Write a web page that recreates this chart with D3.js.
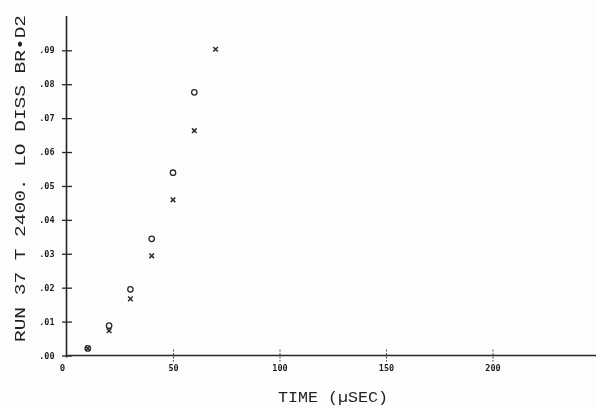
<!DOCTYPE html>
<html>
<head>
<meta charset="utf-8">
<script src="https://cdn.jsdelivr.net/npm/d3@7"></script>
<style>
  html, body { margin: 0; padding: 0; background: #fdfdfd; }
  svg { display: block; }
</style>
</head>
<body>
<script>
// Time in microseconds for each sample
const timeCircle = [10, 20, 30, 40, 50, 60];
const valueCircle = [0.0021, 0.0088, 0.0195, 0.0344, 0.0539, 0.0776];
const timeCross = [10, 20, 30, 40, 50, 60, 70];
const valueCross = [0.0021, 0.0073, 0.0167, 0.0294, 0.0459, 0.0663, 0.0903];

const xTicks = [0, 50, 100, 150, 200];
const xTickLabels = ["0", "50", "100", "150", "200"];
const yTicks = [0, 0.01, 0.02, 0.03, 0.04, 0.05, 0.06, 0.07, 0.08, 0.09];
const yTickLabels = [".00", ".01", ".02", ".03", ".04", ".05", ".06", ".07", ".08", ".09"];

const xTitle = "TIME (\u00B5SEC)";
const yTitle = "RUN 37  T 2400. LO DISS BR\u2022D2";

const W = 596, H = 408;
const ink = "#262626";

const svg = d3.select("body").append("svg")
  .attr("width", W).attr("height", H);

const defs = svg.append("defs");
defs.append("filter").attr("id", "soft")
  .append("feGaussianBlur").attr("stdDeviation", 0.35);

const g = svg.append("g").attr("filter", "url(#soft)");

const x = d3.scaleLinear().domain([0, 250]).range([66.5, 599]);
const y = d3.scaleLinear().domain([0, 0.09]).range([355.5, 50.3]);

// Axis lines
g.append("line")
  .attr("x1", x(0)).attr("x2", W)
  .attr("y1", y(0)).attr("y2", y(0))
  .attr("stroke", ink).attr("stroke-width", 1.4);
g.append("line")
  .attr("x1", x(0)).attr("x2", x(0))
  .attr("y1", 16).attr("y2", y(0) + 2)
  .attr("stroke", ink).attr("stroke-width", 1.6);

// Y axis: ticks crossing the axis line
const yAxis = d3.axisLeft(y)
  .tickValues(yTicks)
  .tickFormat((d, i) => yTickLabels[i])
  .tickSize(4).tickPadding(8);
const yg = g.append("g").attr("transform", `translate(${x(0)},0)`).call(yAxis);
yg.select(".domain").remove();
yg.selectAll(".tick line").attr("x1", -4.5).attr("x2", 5.5)
  .attr("stroke", ink).attr("stroke-width", 1.3);
yg.selectAll(".tick text")
  .attr("fill", "#1e1e1e")
  .attr("font-family", "DejaVu Sans Mono")
  .attr("font-weight", "bold")
  .attr("font-size", 8.5)
  .attr("dy", "0.3em");

// X axis: short ticks crossing the axis line
const xAxis = d3.axisBottom(x)
  .tickValues(xTicks)
  .tickFormat((d, i) => xTickLabels[i])
  .tickSize(6).tickPadding(7);
const xg = g.append("g").attr("transform", `translate(0,${y(0)})`).call(xAxis);
xg.select(".domain").remove();
xg.selectAll(".tick line").attr("y1", -6).attr("y2", 6)
  .attr("stroke", "#555").attr("stroke-width", 1.1)
  .attr("stroke-dasharray", "2,1.5");
xg.selectAll(".tick").filter(d => d === 0).select("line").remove();
xg.selectAll(".tick text")
  .attr("fill", "#1e1e1e")
  .attr("font-family", "DejaVu Sans Mono")
  .attr("font-weight", "bold")
  .attr("font-size", 8.5)
  .attr("dy", "0.3em");
xg.selectAll(".tick").filter(d => d === 0).select("text")
  .attr("x", -4.5).attr("font-size", 9);

// Axis titles
g.append("text")
  .attr("x", 333).attr("y", 402)
  .attr("text-anchor", "middle")
  .attr("font-family", "Liberation Mono")
  .attr("font-size", 15)
  .attr("textLength", 110).attr("lengthAdjust", "spacingAndGlyphs")
  .attr("fill", "#222")
  .text(xTitle);

g.append("text")
  .attr("transform", "translate(25,178.5) rotate(-90)")
  .attr("text-anchor", "middle")
  .attr("font-family", "Liberation Mono")
  .attr("font-size", 15)
  .attr("textLength", 327).attr("lengthAdjust", "spacingAndGlyphs")
  .attr("fill", "#222")
  .text(yTitle);

// Circle markers
g.append("g").selectAll("circle")
  .data(timeCircle.map((t, i) => [t, valueCircle[i]]))
  .join("circle")
  .attr("cx", d => x(d[0])).attr("cy", d => y(d[1]))
  .attr("r", 2.7)
  .attr("fill", "none").attr("stroke", "#2a2a2a").attr("stroke-width", 1.3);

// Cross markers
g.append("g").selectAll("path")
  .data(timeCross.map((t, i) => [t, valueCross[i]]))
  .join("path")
  .attr("transform", d => `translate(${x(d[0])},${y(d[1])})`)
  .attr("d", "M-2.3,-2.3L2.3,2.3M-2.3,2.3L2.3,-2.3")
  .attr("fill", "none").attr("stroke", "#2a2a2a").attr("stroke-width", 1.5);
</script>
</body>
</html>
